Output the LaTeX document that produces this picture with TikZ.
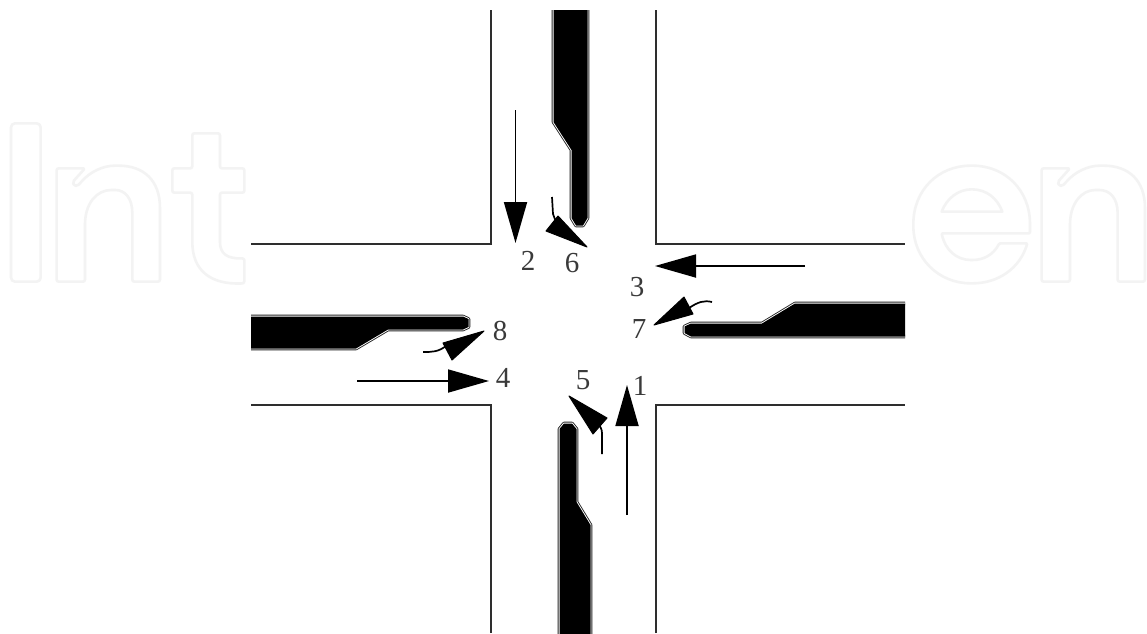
\documentclass[tikz,border=0pt]{standalone}
\usepackage{fontspec}
\setmainfont{Liberation Serif}
\usetikzlibrary{arrows.meta}
\definecolor{road}{HTML}{2E2E2E}
\definecolor{mark}{HTML}{F3F3F3}
\definecolor{numeral}{HTML}{3A3A3A}
\tikzset{
  roadedge/.style={draw=road,line width=2.2pt,line join=miter},
  wm/.style={draw=mark,line width=2.6pt,line join=round},
  wmz/.style={x=0.3333pt,y=-0.3333pt},
  straightarrow/.style={draw=black,line width=1.8pt,-{Triangle[length=41pt,width=23pt]}},
  turnhead/.style={fill=black,draw=black,line width=1pt,line join=round},
  turntail/.style={draw=black,line width=1.7pt},
  num/.style={font=\fontsize{29}{29}\selectfont,text=numeral,inner sep=0pt,anchor=center}
}
\newcommand{\medianpath}[1]{%
  \draw[black!85,line width=3.6pt,line join=round] #1;
  \draw[white,line width=1.8pt,line join=round] #1;
  \fill[black] #1;}
\begin{document}
\begin{tikzpicture}[x=1pt,y=-1pt]
\useasboundingbox (0,0) rectangle (1147,633);
\fill[white] (0,0) rectangle (1147,633);
% watermark
\begin{scope}[shift={(0,100)},wmz]
\draw[wm,rounded corners=4pt] (33,70) rectangle (122,545);
\draw[wm,rounded corners=2pt] (170,205) -- (255,205) -- (218,246) .. controls (222,260) and (232,258) .. (240,250) .. controls (270,215) and (310,197) .. (350,197) .. controls (430,197) and (480,240) .. (480,330) -- (480,545) -- (397,545) -- (397,345) .. controls (397,295) and (375,270) .. (340,270) .. controls (290,270) and (255,310) .. (255,380) -- (255,545) -- (170,545) -- cycle;
\draw[wm,rounded corners=2pt] (577,100) -- (660,100) -- (660,205) -- (733,205) -- (733,278) -- (660,278) -- (660,420) .. controls (660,460) and (680,477) .. (733,475) -- (733,550) .. controls (630,555) and (577,510) .. (577,420) -- (577,278) -- (517,278) -- (517,205) -- (577,205) -- cycle;
\end{scope}
\begin{scope}[shift={(890,100)},wmz]
\draw[wm,rounded corners=1pt] (420,400) -- (155,400) .. controls (165,450) and (200,480) .. (245,480) .. controls (280,480) and (310,465) .. (328,430) -- (412,430) .. controls (390,505) and (325,550) .. (245,550) .. controls (145,550) and (70,475) .. (70,375) .. controls (70,270) and (145,197) .. (245,197) .. controls (345,197) and (420,270) .. (420,375) -- cycle;
\draw[wm] (155,335) .. controls (170,295) and (205,268) .. (245,268) .. controls (290,268) and (322,295) .. (337,335) -- cycle;
\draw[wm,rounded corners=2pt] (455,205) -- (540,205) -- (503,246) .. controls (507,260) and (517,258) .. (525,250) .. controls (555,215) and (595,197) .. (635,197) .. controls (715,197) and (765,240) .. (765,330) -- (765,545) -- (683,545) -- (683,345) .. controls (683,295) and (660,270) .. (622,270) .. controls (575,270) and (540,310) .. (540,380) -- (540,545) -- (455,545) -- cycle;
\end{scope}
% road edges
\coordinate (nwA) at (491,10); \coordinate (nwB) at (491,244); \coordinate (nwC) at (251,244);
\coordinate (neA) at (656,10); \coordinate (neB) at (656,244); \coordinate (neC) at (905,244);
\coordinate (swA) at (491,633); \coordinate (swB) at (491,405); \coordinate (swC) at (251,405);
\coordinate (seA) at (656,633); \coordinate (seB) at (656,405); \coordinate (seC) at (905,405);
\draw[roadedge] (nwA) -- (nwB) -- (nwC);
\draw[roadedge] (neA) -- (neB) -- (neC);
\draw[roadedge] (swA) -- (swB) -- (swC);
\draw[roadedge] (seA) -- (seB) -- (seC);
% medians
\begin{scope}
\clip (251,10) rectangle (905,633);
\medianpath{(553.5,5) -- (553.5,122) -- (571.5,150) -- (571.5,218) -- (576,225.5) -- (583,225.5) -- (587.5,218) -- (587.5,5) -- cycle}
\medianpath{(245,316.5) -- (463,316.5) -- (468.5,319) -- (468.5,327) -- (463,329.5) -- (388,329.5) -- (356,348.5) -- (245,348.5) -- cycle}
\medianpath{(910,303.5) -- (795,303.5) -- (762,323.5) -- (691,323.5) -- (684.5,326.5) -- (684.5,333) -- (691,336.5) -- (910,336.5) -- cycle}
\medianpath{(559.5,640) -- (559.5,429) -- (564,423.5) -- (572,423.5) -- (576.5,429) -- (576.5,502) -- (590.5,525) -- (590.5,640) -- cycle}
\end{scope}
% straight arrows
\coordinate (a2s) at (515.5,110); \coordinate (a2e) at (515.5,243);
\coordinate (a3s) at (805,266); \coordinate (a3e) at (655,266);
\coordinate (a4s) at (357,381); \coordinate (a4e) at (489,381);
\coordinate (a1s) at (627,515); \coordinate (a1e) at (627,385);
\draw[straightarrow] (a2s) -- (a2e);
\draw[straightarrow] (a3s) -- (a3e);
\draw[straightarrow] (a4s) -- (a4e);
\draw[straightarrow] (a1s) -- (a1e);
% turning arrows
\coordinate (t6a) at (552,197); \coordinate (t6b) at (556,222);
\draw[turntail] (t6a) -- (553,214) -- (t6b);
\fill[turnhead] (587,247) -- (558,216) -- (546,231) -- cycle;
\coordinate (t7a) at (712,302); \coordinate (t7b) at (689,308);
\draw[turntail] (t7a) .. controls (704,300) and (698,302) .. (t7b);
\fill[turnhead] (654,325) -- (684,297) -- (693,314) -- cycle;
\coordinate (t8a) at (423,352); \coordinate (t8b) at (446,346);
\draw[turntail] (t8a) .. controls (432,352) and (438,352) .. (t8b);
\fill[turnhead] (484,331) -- (443,343) -- (452,360) -- cycle;
\coordinate (t5a) at (602,454); \coordinate (t5b) at (599,425);
\draw[turntail] (t5a) -- (602,436) .. controls (602,431) and (602,429) .. (t5b);
\fill[turnhead] (569,396) -- (607,418) -- (593,434) -- cycle;
% numbers
\node[num] (n2) at (528,261) {2};
\node[num] (n6) at (572,263) {6};
\node[num] (n3) at (637,287) {3};
\node[num] (n7) at (639,329) {7};
\node[num] (n8) at (500,331) {8};
\node[num] (n4) at (503,378) {4};
\node[num] (n5) at (583,380) {5};
\node[num] (n1) at (640,386) {1};
\end{tikzpicture}
\end{document}
